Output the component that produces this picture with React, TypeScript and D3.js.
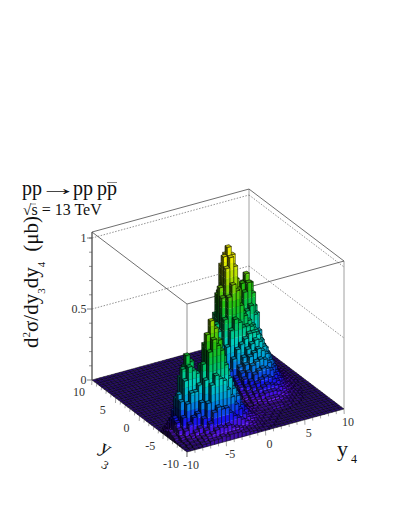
import React, { useEffect, useRef } from 'react';
import * as d3 from 'd3';

const WIDTH = 399;
const HEIGHT = 516;

const y4Major = [-10, -5, 0, 5, 10];
const y3Major = [-10, -5, 0, 5, 10];
const zMajor = [0, 0.5, 1];
const zMinor = [0.1, 0.2, 0.3, 0.4, 0.6, 0.7, 0.8, 0.9, 1.0];
const axisMinor = d3.range(-10, 11);
const binEdges = d3.range(-10, 10.01, 0.5);
const colorStops = ['#2f0e85', '#5a10e0', '#1414f0', '#0090e0', '#00d0c0', '#00c050', '#20c010', '#a0d800', '#f0f000'];
const colorLevels = [0, 0.05, 0.13, 0.24, 0.37, 0.5, 0.62, 0.78, 0.92];

// cross section in percent of the maximum, one row per y3 bin (-10 to 10), one column per y4 bin
const z00 = [0,0,1,1,2,2,3,3,3,4,3,4,4,4,3,3,2,2,1,1,1,0,0,0,0,0,0,0,0,0,0,0,0,0,0,0,0,0,0,0];
const z01 = [0,1,2,2,3,4,5,6,8,9,8,9,7,6,5,4,3,3,2,2,1,1,1,0,0,0,0,0,0,0,0,0,0,0,0,0,0,0,0,0];
const z02 = [1,2,3,3,4,5,8,12,19,22,20,20,16,13,11,9,7,5,4,3,2,1,1,1,0,0,0,0,0,0,0,0,0,0,0,0,0,0,0,0];
const z03 = [1,2,4,5,7,9,15,25,37,43,40,38,31,25,19,15,11,8,6,4,3,2,2,1,1,0,0,0,0,0,0,0,0,0,0,0,0,0,0,0];
const z04 = [1,4,8,12,16,18,25,40,59,67,62,58,47,37,29,23,16,12,8,6,4,3,2,2,1,1,0,0,0,0,0,0,0,0,0,0,0,0,0,0];
const z05 = [3,8,16,25,32,32,36,50,70,79,73,64,52,41,32,25,18,13,9,6,4,3,3,2,2,1,1,0,0,0,0,0,0,0,0,0,0,0,0,0];
const z06 = [4,12,26,40,49,46,43,48,62,68,64,61,49,39,30,24,17,12,9,6,4,3,3,2,2,2,1,1,1,1,0,0,0,0,0,0,0,0,0,0];
const z07 = [5,14,30,47,56,51,41,37,43,46,49,50,42,33,26,20,15,11,8,6,5,4,3,3,3,3,3,3,3,2,2,1,1,0,0,0,0,0,0,0];
const z08 = [4,12,26,40,47,42,31,24,26,28,32,38,31,25,19,15,11,9,7,6,5,4,4,3,3,3,4,4,4,3,3,2,1,1,0,0,0,0,0,0];
const z09 = [3,8,16,25,30,26,18,13,12,13,17,27,22,17,13,11,8,6,4,3,2,2,2,3,4,5,6,6,6,5,4,3,2,1,1,0,0,0,0,0];
const z10 = [1,4,8,12,14,12,8,5,4,6,10,18,15,11,9,7,5,4,3,2,2,2,3,5,6,8,9,9,9,8,6,5,3,2,1,0,0,0,0,0];
const z11 = [0,1,3,4,5,4,3,2,2,4,7,12,9,7,6,5,3,2,2,2,2,3,4,7,9,11,12,13,12,11,9,7,4,3,2,1,0,0,0,0];
const z12 = [0,0,0,1,1,1,1,1,1,2,4,6,5,4,3,3,2,2,2,2,2,4,6,9,12,14,16,17,16,14,12,9,6,4,2,1,0,0,0,0];
const z13 = [0,0,0,0,0,0,0,0,0,0,1,2,2,2,2,2,1,1,1,1,3,5,8,12,15,19,21,22,21,19,15,12,8,5,3,1,1,0,0,0];
const z14 = [0,0,0,0,0,0,0,0,0,0,0,0,0,0,1,1,1,1,1,2,4,7,11,16,20,24,26,27,26,23,19,15,10,6,4,2,1,0,0,0];
const z15 = [0,0,0,0,0,0,0,0,0,0,0,0,0,0,0,0,0,0,1,2,5,8,13,19,24,29,31,33,31,28,23,18,12,7,4,2,1,0,0,0];
const z16 = [0,0,0,0,0,0,0,0,0,0,0,0,0,0,0,0,0,1,2,4,7,10,15,22,28,33,36,38,36,32,26,20,13,8,5,3,2,1,0,0];
const z17 = [0,0,0,0,0,0,0,0,0,0,0,0,0,0,0,0,1,2,4,7,13,19,27,33,36,39,42,42,40,35,29,22,15,9,6,3,2,1,0,0];
const z18 = [0,0,0,0,0,0,0,0,0,0,0,0,0,0,0,0,1,3,7,14,23,35,46,53,50,46,46,45,42,37,30,24,16,10,6,3,2,1,0,0];
const z19 = [0,0,0,0,0,0,0,0,0,0,0,0,0,0,0,0,2,5,10,20,35,53,68,76,71,60,52,48,44,38,32,25,17,11,7,4,2,1,0,0];
const z20 = [0,0,0,0,0,0,0,0,0,0,0,0,0,0,0,0,3,6,12,25,44,67,87,94,87,70,54,47,43,38,33,27,18,11,7,4,2,1,0,0];
const z21 = [0,0,0,0,0,0,0,0,0,0,0,0,0,0,0,0,3,6,13,27,48,73,94,100,94,76,56,43,38,34,30,25,18,11,6,3,2,1,0,0];
const z22 = [0,0,0,0,0,0,0,0,0,0,0,0,0,0,0,0,3,6,12,25,44,67,87,94,87,71,53,40,36,36,34,30,21,13,7,3,2,1,0,0];
const z23 = [0,0,0,0,0,0,0,0,0,0,0,0,0,0,0,0,2,5,10,20,35,52,67,73,68,57,46,40,43,48,51,44,32,19,10,4,2,1,0,0];
const z24 = [0,0,0,0,0,0,0,0,0,0,0,0,0,0,0,0,1,4,7,14,23,35,44,48,45,41,36,39,50,60,66,58,43,24,13,5,2,1,0,0];
const z25 = [0,0,0,0,0,0,0,0,0,0,0,0,0,0,0,0,1,2,5,8,14,20,25,27,26,25,26,33,50,65,71,64,47,27,13,6,2,1,0,0];
const z26 = [0,0,0,0,0,0,0,0,0,0,0,0,0,0,0,0,0,1,2,5,7,10,12,13,13,14,18,27,44,57,64,57,43,24,13,5,2,1,0,0];
const z27 = [0,0,0,0,0,0,0,0,0,0,0,0,0,0,0,0,0,0,1,2,4,5,6,6,7,8,12,20,31,40,45,40,30,19,10,4,2,1,0,0];
const z28 = [0,0,0,0,0,0,0,0,0,0,0,0,0,0,0,0,0,0,0,1,2,3,3,3,3,4,7,12,19,25,27,25,19,12,7,3,1,0,0,0];
const z29 = [0,0,0,0,0,0,0,0,0,0,0,0,0,0,0,0,0,0,0,0,1,1,1,1,1,2,3,6,9,12,13,12,9,6,3,1,0,0,0,0];
const z30 = [0,0,0,0,0,0,0,0,0,0,0,0,0,0,0,0,0,0,0,0,0,0,0,0,0,1,1,2,3,5,5,5,3,2,1,0,0,0,0,0];
const z31 = [0,0,0,0,0,0,0,0,0,0,0,0,0,0,0,0,0,0,0,0,0,0,0,0,0,0,0,0,1,1,1,1,1,0,0,0,0,0,0,0];
const zEmpty = new Array(40).fill(0);
const zRows = [z00,z01,z02,z03,z04,z05,z06,z07,z08,z09,z10,z11,z12,z13,z14,z15,z16,z17,z18,z19,z20,z21,z22,z23,z24,z25,z26,z27,z28,z29,z30,z31,zEmpty,zEmpty,zEmpty,zEmpty,zEmpty,zEmpty,zEmpty,zEmpty];

// oblique box projection, front corner of the floor is the origin
const origin = [187, 452];
const xFromY4 = d3.scaleLinear().domain([-10, 10]).range([0, 157]);
const yFromY4 = d3.scaleLinear().domain([-10, 10]).range([0, -43]);
const xFromY3 = d3.scaleLinear().domain([-10, 10]).range([0, -95]);
const yFromY3 = d3.scaleLinear().domain([-10, 10]).range([0, -72]);
const yFromZ = d3.scaleLinear().domain([0, 1]).range([0, -142]);
const zTop = 1.042;

const project = (y4: number, y3: number, z: number): [number, number] => [
  origin[0] + xFromY4(y4) + xFromY3(y3),
  origin[1] + yFromY4(y4) + yFromY3(y3) + yFromZ(z),
];

const palette = d3.scaleLinear<string>().domain(colorLevels).range(colorStops).clamp(true);
const bandStep = 0.05;
const shade = (z: number, k: number) => {
  const c = d3.rgb(palette(z));
  return d3.rgb(c.r * k, c.g * k, c.b * k).formatHex();
};

const outline = d3.line();
const poly = (pts: [number, number][]) => outline(pts) + 'Z';

const App = () => {
  const svgRef = useRef<SVGSVGElement>(null);

  useEffect(() => {
    const svg = d3.select(svgRef.current);
    svg.selectAll('*').remove();

    const axisColor = '#4a4a4a';
    const dotted = '#777';
    const labelColor = '#333';

    const segment = (g: any, a: [number, number], b: [number, number], color: string, w = 0.8, dash?: string) =>
      g.append('line')
        .attr('x1', a[0]).attr('y1', a[1]).attr('x2', b[0]).attr('y2', b[1])
        .attr('stroke', color).attr('stroke-width', w).attr('stroke-dasharray', dash ?? null);

    // back of the box
    const back = svg.append('g');
    segment(back, project(-10, 10, 0), project(-10, 10, zTop), axisColor);
    segment(back, project(10, 10, 0), project(10, 10, zTop), '#888');
    segment(back, project(10, -10, 0), project(10, -10, zTop), '#888');
    segment(back, project(-10, 10, zTop), project(10, 10, zTop), axisColor);
    segment(back, project(10, 10, zTop), project(10, -10, zTop), axisColor);
    zMajor.filter(z => z > 0).forEach(z => {
      segment(back, project(-10, 10, z), project(10, 10, z), dotted, 0.8, '1.5 1.5');
      segment(back, project(10, 10, z), project(10, -10, z), dotted, 0.8, '1.5 1.5');
    });

    // front top edges
    const front = svg.append('g');
    segment(front, project(-10, 10, zTop), project(-10, -10, zTop), axisColor);
    segment(front, project(-10, -10, zTop), project(10, -10, zTop), axisColor);
    segment(front, project(-10, -10, 0), project(-10, -10, zTop), '#777');

    // lego columns, back to front
    const lego = svg.append('g');
    const n = binEdges.length - 1;
    for (let j = n - 1; j >= 0; j--) {
      for (let i = n - 1; i >= 0; i--) {
        const z = zRows[j][i] / 100;
        const x0 = binEdges[i], x1 = binEdges[i + 1];
        const y0 = binEdges[j], y1 = binEdges[j + 1];
        const leftZ = i > 0 ? zRows[j][i - 1] / 100 : 0;
        const frontZ = j > 0 ? zRows[j - 1][i] / 100 : 0;

        const wall = (a: [number, number], b: [number, number], low: number, k: number) => {
          if (z <= low) return;
          const cuts = d3.range(Math.floor(low / bandStep) * bandStep, z, bandStep);
          cuts.forEach(c => {
            const lo = Math.max(c, low);
            const hi = Math.min(c + bandStep, z);
            if (hi <= lo) return;
            const pts: [number, number][] = [
              project(a[0], a[1], lo), project(b[0], b[1], lo),
              project(b[0], b[1], hi), project(a[0], a[1], hi),
            ];
            lego.append('path').attr('d', poly(pts)).attr('fill', shade((lo + hi) / 2, k))
              .attr('stroke', shade((lo + hi) / 2, k)).attr('stroke-width', 0.2);
          });
          lego.append('path')
            .attr('d', poly([project(a[0], a[1], low), project(b[0], b[1], low), project(b[0], b[1], z), project(a[0], a[1], z)]))
            .attr('fill', 'none').attr('stroke', '#000').attr('stroke-width', 0.5);
        };

        wall([x0, y1], [x0, y0], leftZ, 0.3);
        wall([x0, y0], [x1, y0], frontZ, 1);
        lego.append('path')
          .attr('d', poly([project(x0, y0, z), project(x1, y0, z), project(x1, y1, z), project(x0, y1, z)]))
          .attr('fill', shade(z, 0.8)).attr('stroke', '#000').attr('stroke-width', 0.5);
      }
    }

    // axes
    const axes = svg.append('g');
    segment(axes, project(-10, 10, 0), project(-10, 10, zTop), axisColor);
    zMinor.forEach(z => {
      const p = project(-10, 10, z);
      segment(axes, [p[0] - 3, p[1]], p, axisColor, 0.6);
    });
    zMajor.forEach(z => {
      const p = project(-10, 10, z);
      segment(axes, [p[0] - 5, p[1]], p, axisColor, 0.7);
      axes.append('text').attr('x', p[0] - 5.5).attr('y', p[1] + 4).attr('text-anchor', 'end')
        .attr('font-size', 12).attr('fill', labelColor).text(z);
    });

    axisMinor.forEach(v => {
      const long = v % 5 === 0 ? 5 : 3;
      const a = project(v, -10, 0);
      segment(axes, a, [a[0] + 0.2, a[1] + long], axisColor, 0.5);
      const b = project(-10, v, 0);
      segment(axes, b, [b[0] - 0.3, b[1] + long], axisColor, 0.5);
    });
    y4Major.forEach(v => {
      const p = project(v, -10, 0);
      axes.append('text').attr('x', p[0] + 4).attr('y', p[1] + 17).attr('text-anchor', 'middle')
        .attr('font-size', 12).attr('fill', labelColor).text(v);
    });
    y3Major.forEach(v => {
      const p = project(-10, v, 0);
      axes.append('text').attr('x', v === -10 ? p[0] - 16 : p[0] - 13).attr('y', p[1] + 15.5).attr('text-anchor', 'middle')
        .attr('font-size', 12).attr('fill', labelColor).text(v);
    });

    // titles
    const titles = svg.append('g').attr('fill', '#111');
    const put = (x: number, y: number, size: number, s: string) =>
      titles.append('text').attr('x', x).attr('y', y).attr('font-size', size).text(s);

    put(22, 195, 20, 'pp');
    titles.append('text').attr('transform', 'translate(38.7,195) scale(1.93,1)').attr('font-size', 20).text('→');
    put(73, 195, 20, 'pp');
    put(97, 195, 20, 'pp');
    segment(titles, [107, 182.5], [117, 182.5], '#555', 0.7);
    put(23, 215, 15, '√');
    segment(titles, [30, 204], [36, 204], '#555', 0.6);
    put(31.5, 215, 16, 's = 13 TeV');

    const zTitle = titles.append('text')
      .attr('transform', 'translate(38,348) rotate(-90)')
      .attr('font-size', 21);
    zTitle.append('tspan').text('d');
    zTitle.append('tspan').attr('font-size', 11).attr('dy', -8).text('2');
    zTitle.append('tspan').attr('dy', 8).text('σ/dy');
    zTitle.append('tspan').attr('font-size', 11).attr('dy', 7).text('3');
    zTitle.append('tspan').attr('dy', -7).text('dy');
    zTitle.append('tspan').attr('font-size', 11).attr('dy', 7).text('4');
    zTitle.append('tspan').attr('dy', -7).attr('dx', 10).text('(μb)');

    titles.append('text').attr('transform', 'translate(98.4,450.7) rotate(30)').attr('font-size', 20).text('y');
    titles.append('text').attr('transform', 'translate(100.4,467) rotate(30)').attr('font-size', 12).text('3');
    put(337, 456, 22, 'y');
    put(351, 463, 12, '4');
  }, []);

  return (
    <svg
      ref={svgRef}
      width={WIDTH}
      height={HEIGHT}
      style={{ position: 'absolute', left: 0, top: 0, fontFamily: '"Liberation Serif", serif' }}
    >
    </svg>
  );
};

export default App;
